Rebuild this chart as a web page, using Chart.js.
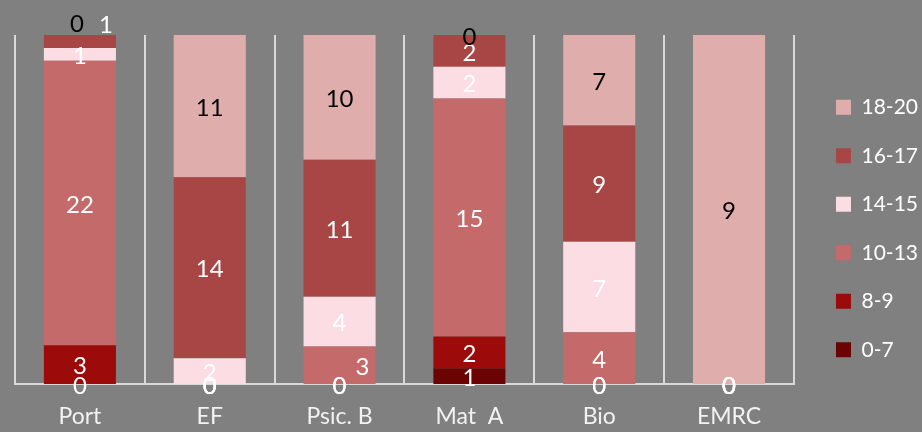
<!DOCTYPE html>
<html>
<head>
<meta charset="utf-8">
<script src="https://cdn.jsdelivr.net/npm/chart.js@4"></script>
<style>
  html, body { margin: 0; padding: 0; background: #808080; }
  #wrap { width: 922px; height: 432px; }
</style>
</head>
<body>
<div id="wrap"><canvas id="chart"></canvas></div>
<script>
// categories and grade bands
var subjects = ['Port', 'EF', 'Psic. B', 'Mat  A', 'Bio', 'EMRC'];
var bands = ['0-7', '8-9', '10-13', '14-15', '16-17', '18-20'];

// student counts per band, one value per subject
var band0_7   = [0, 0, 0, 1, 0, 0];
var band8_9   = [3, 0, 0, 2, 0, 0];
var band10_13 = [22, 0, 3, 15, 4, 0];
var band14_15 = [1, 2, 4, 2, 7, 0];
var band16_17 = [1, 14, 11, 2, 9, 0];
var band18_20 = [0, 11, 10, 0, 7, 9];

var counts = [band0_7, band8_9, band10_13, band14_15, band16_17, band18_20];
var colors = ['#6b0303', '#9c0a0a', '#c46a6a', '#fbdde3', '#a84646', '#e0adad'];
var labelColors = ['#fff', '#fff', '#fff', '#fff', '#fff', '#000'];

// a few labels were nudged by hand in the original
var nudges = { '4,0': [26, -18], '5,0': [-3, -13], '2,2': [23, 0] };

var FONT = 'Lato, "Open Sans", sans-serif';

// totals -> 100% stacked values
var totals = subjects.map(function(s, i) {
  return counts.reduce(function(a, c) { return a + c[i]; }, 0);
});

var datasets = bands.map(function(b, k) {
  return {
    label: b,
    data: counts[k].map(function(v, i) { return totals[i] ? v / totals[i] * 100 : 0; }),
    raw: counts[k],
    backgroundColor: colors[k],
    borderWidth: 0,
    categoryPercentage: 1.0,
    barPercentage: 0.555
  };
});

// draw counts in the middle of each segment
var valueLabels = {
  id: 'valueLabels',
  afterDatasetsDraw: function(chart) {
    var ctx = chart.ctx;
    ctx.save();
    ctx.font = '24px ' + FONT;
    ctx.textAlign = 'center';
    ctx.textBaseline = 'middle';
    chart.data.datasets.forEach(function(ds, k) {
      var meta = chart.getDatasetMeta(k);
      meta.data.forEach(function(bar, i) {
        var n = nudges[k + ',' + i] || [0, 0];
        ctx.fillStyle = labelColors[k];
        ctx.fillText(String(ds.raw[i]), bar.x + n[0], (bar.y + bar.base) / 2 + 2 + n[1]);
      });
    });
    ctx.restore();
  }
};

// push the legend a bit away from the plot, like the original
var legendShift = {
  id: 'legendShift',
  afterLayout: function(chart) {
    var lg = chart.legend;
    if (!lg) return;
    lg.left += 14.5; lg.right += 14.5;
    lg.top -= 5; lg.bottom -= 5;
  }
};

new Chart(document.getElementById('chart'), {
  type: 'bar',
  data: { labels: subjects, datasets: datasets },
  options: {
    responsive: true,
    maintainAspectRatio: false,
    animation: false,
    layout: { padding: { left: 15, top: 35, bottom: 0, right: 8.5 } },
    scales: {
      x: {
        stacked: true,
        afterFit: function(scale) { scale.height = 48; },
        grid: { display: true, offset: true, color: '#d9d9d9', lineWidth: 2, drawTicks: false },
        border: { display: true, color: '#d9d9d9', width: 2 },
        ticks: { color: '#f2f2f2', padding: 19, font: { family: FONT, size: 23 } }
      },
      y: {
        stacked: true,
        display: false,
        min: 0,
        max: 100
      }
    },
    plugins: {
      legend: {
        position: 'right',
        reverse: true,
        labels: {
          color: '#ffffff',
          boxWidth: 15,
          boxHeight: 15,
          padding: 27.5,
          font: { family: FONT, size: 21 }
        }
      },
      tooltip: { enabled: false }
    }
  },
  plugins: [valueLabels, legendShift]
});
</script>
</body>
</html>
